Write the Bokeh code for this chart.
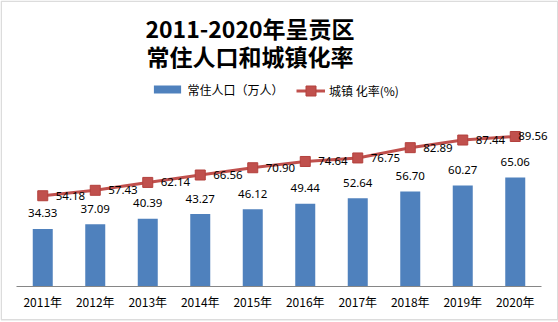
import numpy as np
from bokeh.plotting import figure
from bokeh.models import Range1d, FixedTicker, Label, Legend, LegendItem, BoxAnnotation
from bokeh.core.properties import value
from bokeh.embed import file_html
from bokeh.resources import INLINE

# ---- data ----
years = ["2011年", "2012年", "2013年", "2014年", "2015年",
         "2016年", "2017年", "2018年", "2019年", "2020年"]
population = [34.33, 37.09, 40.39, 43.27, 46.12, 49.44, 52.64, 56.70, 60.27, 65.06]
urbanization = [54.18, 57.43, 62.14, 66.56, 70.90, 74.64, 76.75, 82.89, 87.44, 89.56]
title_lines = ["2011-2020年呈贡区", "常住人口和城镇化率"]
series_names = ["常住人口（万人）", "城镇 化率(%)"]

# ---- layout constants (pixels) ----
W, H = 558, 322
axis_left, axis_right = 16, 541
baseline_px = 286
n = len(years)
px_per_cat = (axis_right - axis_left) / n
px_per_unit = 1.675

x0 = -axis_left / px_per_cat
y1 = baseline_px / px_per_unit
def px_x(px):
    return x0 + px / px_per_cat
def px_y(py):
    return y1 - py / px_per_unit

xs = np.arange(n) + 0.5

p = figure(width=W, height=H, output_backend="svg", toolbar_location=None,
           x_range=Range1d(x0, x0 + W / px_per_cat),
           y_range=Range1d(y1 - H / px_per_unit, y1),
           y_axis_location=None,
           min_border_left=0, min_border_right=0, min_border_top=0,
           min_border_bottom=0)
p.grid.visible = False
p.outline_line_color = None
p.background_fill_color = "white"
p.border_fill_color = "white"

ax = p.xaxis[0]
ax.fixed_location = 0
ax.ticker = FixedTicker(ticks=[float(x) for x in xs])
ax.major_label_overrides = {float(x): y for x, y in zip(xs, years)}
ax.bounds = (0, n)
ax.axis_line_color = "#868686"
ax.axis_line_width = 1
ax.major_tick_line_color = None
ax.minor_tick_line_color = None
ax.major_tick_out = 0
ax.major_tick_in = 0
ax.major_label_standoff = 6
ax.major_label_text_font = "Noto Sans CJK SC"
ax.major_label_text_font_size = "12px"
ax.major_label_text_color = "black"

bar_w = 20 / px_per_cat
bars = p.vbar(x=xs, top=population, width=bar_w, fill_color="#4F81BD", line_color=None)
ln = p.line(xs, urbanization, line_color="#C0504D", line_width=3)
mk = p.scatter(xs, urbanization, marker="square", size=10, fill_color="#C0504D",
               line_color="#B3403D")

lab_font = value("Noto Sans")
p.text(x=xs, y=[v + 15.5 / px_per_unit for v in population],
       text=[f"{v:.2f}" for v in population],
       text_align="center", text_baseline="middle", text_font=lab_font,
       text_font_size="11.5px", text_color="black")
p.text(x=xs[:-1], y=urbanization[:-1], text=[f"{v:.2f}" for v in urbanization[:-1]],
       x_offset=13, text_align="left", text_baseline="middle", text_font=lab_font,
       text_font_size="11.5px", text_color="black")
p.text(x=xs[-1:], y=urbanization[-1:], text=[f"{v:.2f}" for v in urbanization[-1:]],
       x_offset=3, text_align="left", text_baseline="middle", text_font=lab_font,
       text_font_size="11.5px", text_color="black")

# title
for line, ypx in zip(title_lines, [27, 55]):
    p.add_layout(Label(x=px_x(249.5), y=px_y(ypx), text=line,
                       text_align="center", text_baseline="middle",
                       text_font="Noto Sans CJK SC", text_font_style="bold",
                       text_font_size="23px", text_color="black"))

# legends
def make_legend(items, loc, gw, gh):
    lg = Legend(items=items, orientation="horizontal", location=loc,
                padding=0, margin=0, spacing=0, label_standoff=4,
                glyph_width=gw, glyph_height=gh, label_height=14,
                border_line_color=None, background_fill_alpha=0,
                label_text_font="Noto Sans CJK SC", label_text_font_size="12px",
                label_text_color="black")
    p.add_layout(lg)
    return lg

make_legend([LegendItem(label=series_names[0], renderers=[bars])],
            (149.6, H - 97.5), 34, 10)
make_legend([LegendItem(label=series_names[1], renderers=[ln, mk])],
            (296, H - 102.5), 29, 25)

# outer border of the chart area
p.add_layout(BoxAnnotation(left=px_x(0.75), right=px_x(W - 0.75),
                           top=px_y(0.75), bottom=px_y(319.25),
                           fill_alpha=0, line_color="#8A8A8A", line_width=1.5))

open("out.html", "w").write(file_html(p, INLINE))
